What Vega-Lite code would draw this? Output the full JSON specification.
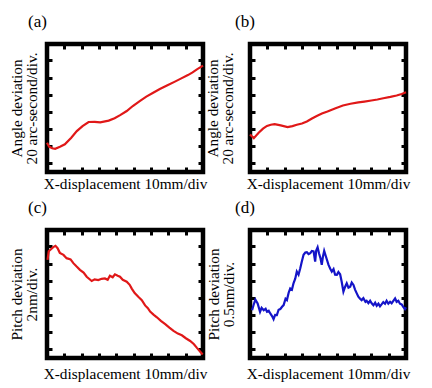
{
  "$schema": "https://vega.github.io/schema/vega-lite/v6.json",
  "padding": {"left": 6, "top": 10, "right": 5, "bottom": 5},
  "background": "white",
  "config": {
    "view": {"stroke": "black", "strokeWidth": 4.5},
    "axis": {
      "domain": false, "labels": false, "grid": false,
      "ticks": true, "tickColor": "black", "tickWidth": 3, "tickSize": -5,
      "titleFont": "Liberation Serif", "titleFontWeight": "normal",
      "titleFontSize": 15.3, "titleColor": "black", "titleLineHeight": 15.5
    },
    "title": {"font": "Liberation Serif", "fontWeight": "normal", "fontSize": 17, "color": "black"}
  },
  "datasets": {
    "a": [
      {"x": 0, "y": 1.2}, {"x": 0.12, "y": 0.98}, {"x": 0.3, "y": 0.88}, {"x": 0.47, "y": 0.85},
      {"x": 0.75, "y": 0.97}, {"x": 1.03, "y": 1.11}, {"x": 1.4, "y": 1.5}, {"x": 1.72, "y": 1.88},
      {"x": 2.05, "y": 2.17}, {"x": 2.4, "y": 2.41}, {"x": 2.75, "y": 2.42}, {"x": 3.07, "y": 2.39},
      {"x": 3.56, "y": 2.49}, {"x": 3.9, "y": 2.63}, {"x": 4.22, "y": 2.81}, {"x": 4.6, "y": 3.05},
      {"x": 4.95, "y": 3.34}, {"x": 5.35, "y": 3.63}, {"x": 5.73, "y": 3.89}, {"x": 6.1, "y": 4.1},
      {"x": 6.51, "y": 4.33}, {"x": 6.95, "y": 4.55}, {"x": 7.38, "y": 4.76}, {"x": 7.75, "y": 4.95},
      {"x": 8.13, "y": 5.14}, {"x": 8.4, "y": 5.3}, {"x": 8.65, "y": 5.47}, {"x": 9.0, "y": 5.69}
    ],
    "b": [
      {"x": 0, "y": 1.68}, {"x": 0.22, "y": 1.47}, {"x": 0.5, "y": 1.78}, {"x": 0.75, "y": 2.02},
      {"x": 0.98, "y": 2.18}, {"x": 1.2, "y": 2.25}, {"x": 1.42, "y": 2.28}, {"x": 1.77, "y": 2.21},
      {"x": 2.17, "y": 2.11}, {"x": 2.45, "y": 2.17}, {"x": 2.7, "y": 2.25}, {"x": 3.0, "y": 2.32},
      {"x": 3.28, "y": 2.44}, {"x": 3.55, "y": 2.6}, {"x": 3.85, "y": 2.76}, {"x": 4.15, "y": 2.9},
      {"x": 4.47, "y": 3.02}, {"x": 4.9, "y": 3.2}, {"x": 5.36, "y": 3.37}, {"x": 5.8, "y": 3.47},
      {"x": 6.25, "y": 3.55}, {"x": 6.6, "y": 3.6}, {"x": 7.0, "y": 3.66}, {"x": 7.35, "y": 3.72},
      {"x": 7.69, "y": 3.79}, {"x": 8.1, "y": 3.87}, {"x": 8.46, "y": 3.95}, {"x": 8.75, "y": 4.04},
      {"x": 9.0, "y": 4.14}
    ],
    "c": [
      {"x": 0.03, "y": 5.21}, {"x": 0.1, "y": 5.71}, {"x": 0.36, "y": 5.95}, {"x": 0.49, "y": 6.03},
      {"x": 0.61, "y": 5.89}, {"x": 0.74, "y": 5.62}, {"x": 0.95, "y": 5.5}, {"x": 1.13, "y": 5.31},
      {"x": 1.36, "y": 5.24}, {"x": 1.52, "y": 5.02}, {"x": 1.71, "y": 4.82}, {"x": 1.9, "y": 4.63},
      {"x": 2.11, "y": 4.47}, {"x": 2.29, "y": 4.23}, {"x": 2.58, "y": 3.98}, {"x": 2.75, "y": 4.08},
      {"x": 2.96, "y": 4.04}, {"x": 3.15, "y": 4.11}, {"x": 3.34, "y": 4.13}, {"x": 3.5, "y": 4.05},
      {"x": 3.63, "y": 4.29}, {"x": 3.79, "y": 4.2}, {"x": 3.92, "y": 4.37}, {"x": 4.08, "y": 4.29},
      {"x": 4.21, "y": 4.23}, {"x": 4.37, "y": 4.05}, {"x": 4.6, "y": 3.94}, {"x": 4.77, "y": 3.76},
      {"x": 4.89, "y": 3.54}, {"x": 5.06, "y": 3.28}, {"x": 5.28, "y": 3.05}, {"x": 5.47, "y": 2.87},
      {"x": 5.66, "y": 2.56}, {"x": 5.82, "y": 2.4}, {"x": 5.95, "y": 2.2}, {"x": 6.16, "y": 2.01},
      {"x": 6.34, "y": 1.87}, {"x": 6.57, "y": 1.66}, {"x": 6.82, "y": 1.47}, {"x": 7.06, "y": 1.27},
      {"x": 7.3, "y": 1.08}, {"x": 7.55, "y": 0.92}, {"x": 7.78, "y": 0.82}, {"x": 8.01, "y": 0.65},
      {"x": 8.26, "y": 0.49}, {"x": 8.48, "y": 0.3}, {"x": 8.65, "y": 0.09}, {"x": 8.83, "y": -0.12},
      {"x": 8.98, "y": -0.3}
    ],
    "d": [
      {"x": 0.12, "y": 2.28}, {"x": 0.21, "y": 2.6}, {"x": 0.31, "y": 2.9}, {"x": 0.44, "y": 2.68},
      {"x": 0.58, "y": 2.19}, {"x": 0.67, "y": 2.42}, {"x": 0.79, "y": 2.28}, {"x": 0.9, "y": 2.37},
      {"x": 0.98, "y": 2.19}, {"x": 1.08, "y": 2.25}, {"x": 1.17, "y": 2.09}, {"x": 1.28, "y": 1.93},
      {"x": 1.36, "y": 1.76}, {"x": 1.45, "y": 2.01}, {"x": 1.55, "y": 2.0}, {"x": 1.65, "y": 2.31},
      {"x": 1.75, "y": 2.35}, {"x": 1.85, "y": 2.48}, {"x": 1.94, "y": 2.58}, {"x": 2.05, "y": 2.95},
      {"x": 2.13, "y": 2.87}, {"x": 2.23, "y": 3.3}, {"x": 2.32, "y": 3.55}, {"x": 2.42, "y": 3.48},
      {"x": 2.51, "y": 3.85}, {"x": 2.61, "y": 4.12}, {"x": 2.7, "y": 4.53}, {"x": 2.8, "y": 4.35},
      {"x": 2.9, "y": 4.72}, {"x": 2.99, "y": 5.11}, {"x": 3.09, "y": 5.51}, {"x": 3.19, "y": 5.64},
      {"x": 3.28, "y": 5.66}, {"x": 3.38, "y": 5.55}, {"x": 3.48, "y": 5.6}, {"x": 3.57, "y": 5.73},
      {"x": 3.67, "y": 5.7}, {"x": 3.76, "y": 5.11}, {"x": 3.82, "y": 5.76}, {"x": 3.9, "y": 5.95},
      {"x": 3.98, "y": 5.6}, {"x": 4.07, "y": 5.29}, {"x": 4.14, "y": 4.92}, {"x": 4.21, "y": 5.41},
      {"x": 4.28, "y": 5.74}, {"x": 4.38, "y": 5.41}, {"x": 4.53, "y": 4.92}, {"x": 4.63, "y": 4.7},
      {"x": 4.72, "y": 4.53}, {"x": 4.82, "y": 4.68}, {"x": 4.91, "y": 4.35}, {"x": 5.01, "y": 4.34},
      {"x": 5.1, "y": 4.5}, {"x": 5.2, "y": 4.37}, {"x": 5.29, "y": 3.94}, {"x": 5.39, "y": 3.36},
      {"x": 5.49, "y": 3.65}, {"x": 5.58, "y": 3.85}, {"x": 5.68, "y": 3.59}, {"x": 5.78, "y": 3.65},
      {"x": 5.87, "y": 3.89}, {"x": 5.97, "y": 3.75}, {"x": 6.06, "y": 3.48}, {"x": 6.16, "y": 3.26},
      {"x": 6.25, "y": 3.07}, {"x": 6.35, "y": 2.95}, {"x": 6.44, "y": 2.87}, {"x": 6.54, "y": 2.98},
      {"x": 6.66, "y": 2.77}, {"x": 6.73, "y": 2.83}, {"x": 6.83, "y": 2.69}, {"x": 6.93, "y": 2.83},
      {"x": 7.02, "y": 2.68}, {"x": 7.12, "y": 2.57}, {"x": 7.22, "y": 2.72}, {"x": 7.31, "y": 2.54},
      {"x": 7.41, "y": 2.66}, {"x": 7.5, "y": 2.51}, {"x": 7.59, "y": 2.62}, {"x": 7.69, "y": 2.75},
      {"x": 7.79, "y": 2.66}, {"x": 7.88, "y": 2.83}, {"x": 7.98, "y": 2.66}, {"x": 8.08, "y": 2.77},
      {"x": 8.17, "y": 2.68}, {"x": 8.27, "y": 2.83}, {"x": 8.37, "y": 2.97}, {"x": 8.46, "y": 2.77},
      {"x": 8.56, "y": 2.83}, {"x": 8.65, "y": 2.66}, {"x": 8.75, "y": 2.62}, {"x": 8.84, "y": 2.48},
      {"x": 8.94, "y": 2.35}, {"x": 9.0, "y": 2.45}
    ]
  },
  "columns": 2,
  "bounds": "flush",
  "spacing": {"row": 58, "column": 47},
  "concat": [
    {
      "title": {"text": "(a)", "anchor": "start", "frame": "group", "dx": -19, "offset": -1, "baseline": "alphabetic"},
      "width": 156, "height": 128,
      "data": {"name": "a"},
      "layer": [
        {
          "mark": {"type": "line", "color": "#e01818", "strokeWidth": 2.2},
          "encoding": {
            "x": {"field": "x", "type": "quantitative", "scale": {"domain": [0, 9], "nice": false, "zero": false},
                  "axis": {"orient": "bottom", "values": [1, 2, 3, 4, 5, 6, 7, 8], "title": "X-displacement 10mm/div", "titlePadding": 3}},
            "y": {"field": "y", "type": "quantitative", "scale": {"domain": [-0.5, 6.95], "nice": false, "zero": false},
                  "axis": {"orient": "left", "values": [0, 1, 2, 3, 4, 5, 6], "title": ["Angle deviation", "20 arc-second/div."], "titlePadding": 6}}
          }
        },
        {
          "mark": {"type": "line", "opacity": 0},
          "encoding": {
            "x": {"field": "x", "type": "quantitative", "axis": {"orient": "top", "values": [1, 2, 3, 4, 5, 6, 7, 8], "title": null}},
            "y": {"field": "y", "type": "quantitative", "axis": {"orient": "right", "values": [0, 1, 2, 3, 4, 5, 6], "title": null}}
          }
        }
      ],
      "resolve": {"axis": {"x": "independent", "y": "independent"}}
    },
    {
      "title": {"text": "(b)", "anchor": "start", "frame": "group", "dx": -15, "offset": -1, "baseline": "alphabetic"},
      "width": 156, "height": 128,
      "data": {"name": "b"},
      "layer": [
        {
          "mark": {"type": "line", "color": "#e01818", "strokeWidth": 2.2},
          "encoding": {
            "x": {"field": "x", "type": "quantitative", "scale": {"domain": [0, 9], "nice": false, "zero": false},
                  "axis": {"orient": "bottom", "values": [1, 2, 3, 4, 5, 6, 7, 8], "title": "X-displacement 10mm/div", "titlePadding": 3}},
            "y": {"field": "y", "type": "quantitative", "scale": {"domain": [-0.5, 6.95], "nice": false, "zero": false},
                  "axis": {"orient": "left", "values": [0, 1, 2, 3, 4, 5, 6], "title": ["Angle deviation", "20 arc-second/div."], "titlePadding": 13}}
          }
        },
        {
          "mark": {"type": "line", "opacity": 0},
          "encoding": {
            "x": {"field": "x", "type": "quantitative", "axis": {"orient": "top", "values": [1, 2, 3, 4, 5, 6, 7, 8], "title": null}},
            "y": {"field": "y", "type": "quantitative", "axis": {"orient": "right", "values": [0, 1, 2, 3, 4, 5, 6], "title": null}}
          }
        }
      ],
      "resolve": {"axis": {"x": "independent", "y": "independent"}}
    },
    {
      "title": {"text": "(c)", "anchor": "start", "frame": "group", "dx": -19, "offset": -1, "baseline": "alphabetic"},
      "width": 156, "height": 128,
      "data": {"name": "c"},
      "layer": [
        {
          "mark": {"type": "line", "color": "#e01818", "strokeWidth": 2.2},
          "encoding": {
            "x": {"field": "x", "type": "quantitative", "scale": {"domain": [0, 9], "nice": false, "zero": false},
                  "axis": {"orient": "bottom", "values": [1, 2, 3, 4, 5, 6, 7, 8], "title": "X-displacement 10mm/div", "titlePadding": 7}},
            "y": {"field": "y", "type": "quantitative", "scale": {"domain": [-0.5, 6.95], "nice": false, "zero": false},
                  "axis": {"orient": "left", "values": [0, 1, 2, 3, 4, 5, 6], "title": ["Pitch deviation", "2nm/div."], "titlePadding": 6}}
          }
        },
        {
          "mark": {"type": "line", "opacity": 0},
          "encoding": {
            "x": {"field": "x", "type": "quantitative", "axis": {"orient": "top", "values": [1, 2, 3, 4, 5, 6, 7, 8], "title": null}},
            "y": {"field": "y", "type": "quantitative", "axis": {"orient": "right", "values": [0, 1, 2, 3, 4, 5, 6], "title": null}}
          }
        }
      ],
      "resolve": {"axis": {"x": "independent", "y": "independent"}}
    },
    {
      "title": {"text": "(d)", "anchor": "start", "frame": "group", "dx": -15, "offset": -1, "baseline": "alphabetic"},
      "width": 156, "height": 128,
      "data": {"name": "d"},
      "layer": [
        {
          "mark": {"type": "line", "color": "#1414c8", "strokeWidth": 2.2},
          "encoding": {
            "x": {"field": "x", "type": "quantitative", "scale": {"domain": [0, 9], "nice": false, "zero": false},
                  "axis": {"orient": "bottom", "values": [1, 2, 3, 4, 5, 6, 7, 8], "title": "X-displacement 10mm/div", "titlePadding": 7}},
            "y": {"field": "y", "type": "quantitative", "scale": {"domain": [-0.5, 6.95], "nice": false, "zero": false},
                  "axis": {"orient": "left", "values": [0, 1, 2, 3, 4, 5, 6], "title": ["Pitch deviation", "0.5nm/div."], "titlePadding": 12}}
          }
        },
        {
          "mark": {"type": "line", "opacity": 0},
          "encoding": {
            "x": {"field": "x", "type": "quantitative", "axis": {"orient": "top", "values": [1, 2, 3, 4, 5, 6, 7, 8], "title": null}},
            "y": {"field": "y", "type": "quantitative", "axis": {"orient": "right", "values": [0, 1, 2, 3, 4, 5, 6], "title": null}}
          }
        }
      ],
      "resolve": {"axis": {"x": "independent", "y": "independent"}}
    }
  ]
}
